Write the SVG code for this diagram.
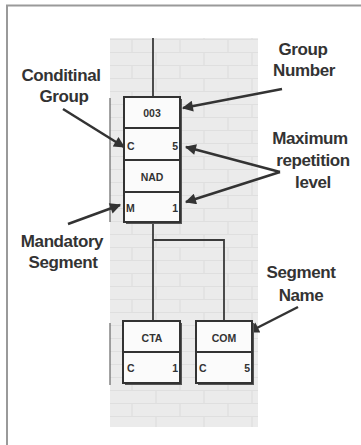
<svg xmlns="http://www.w3.org/2000/svg" width="361" height="445" viewBox="0 0 361 445">
<defs>
<style>
.lbl{font-family:"Liberation Sans",Arial,sans-serif;font-weight:bold;font-size:17px;letter-spacing:-0.4px;fill:#333;text-anchor:middle}
.bt{font-family:"Liberation Sans",Arial,sans-serif;font-weight:bold;font-size:10.5px;fill:#333}
.mid{text-anchor:middle}
.end{text-anchor:end}
.box{fill:#fbfbfb;stroke:#333;stroke-width:2}
.shadow{fill:#555}
.conn{stroke:#3a3a3a;stroke-width:1.8;fill:none}
.arrow{stroke:#333;stroke-width:2.5;fill:none;marker-end:url(#ah)}
.brk{stroke:#666;stroke-width:1.2}
</style>
<marker id="ah" viewBox="0 0 10 10" refX="9" refY="5" markerWidth="5" markerHeight="4.4" markerUnits="strokeWidth" orient="auto">
<path d="M0,0 L10,5 L0,10 z" fill="#333"/>
</marker>
<pattern id="brick" width="48" height="26" patternUnits="userSpaceOnUse">
<rect width="48" height="26" fill="#ebebeb"/>
<path d="M0,0.5 H48 M0,13.5 H48 M12,0 V13 M36,13 V26" stroke="#dfdfdf" stroke-width="1.2"/>
</pattern>
</defs>
<rect width="361" height="445" fill="#ffffff"/>
<path d="M7,445 V5.5 H361" fill="none" stroke="#9a9a9a" stroke-width="2"/>
<rect x="110" y="38" width="148" height="389" fill="url(#brick)"/>

<g id="connectors">
<path class="conn" d="M153,38 V97"/>
<path class="conn" d="M153,222 V321"/>
<path class="conn" d="M153,240 H224 V321"/>
<line class="brk" x1="110" y1="98" x2="110" y2="222"/>
<line class="brk" x1="110" y1="323" x2="110" y2="385"/>
<path class="arrow" d="M282,89 L183,108"/>
<path class="arrow" d="M63,109 L124,147"/>
<path class="arrow" d="M280,172 L186,147"/>
<path class="arrow" d="M280,172 L186,202"/>
<path class="arrow" d="M68,224 L120,205"/>
<path class="arrow" d="M298,307 L249,332"/>
</g>

<g id="group003">
<rect class="shadow" x="126" y="99" width="56" height="63"/>
<rect class="box" x="124" y="97" width="56" height="63"/>
<line x1="124" y1="128" x2="180" y2="128" stroke="#333" stroke-width="2"/>
<text class="bt mid" x="152" y="117">003</text>
<text class="bt" x="127" y="150">C</text>
<text class="bt end" x="178" y="150">5</text>
</g>

<g id="NAD">
<rect class="shadow" x="126" y="162" width="56" height="62"/>
<rect class="box" x="124" y="160" width="56" height="62"/>
<line x1="124" y1="192" x2="180" y2="192" stroke="#333" stroke-width="2"/>
<text class="bt mid" x="152" y="181">NAD</text>
<text class="bt" x="126" y="212">M</text>
<text class="bt end" x="178" y="212">1</text>
</g>

<g id="CTA">
<rect class="shadow" x="125" y="323" width="57" height="62"/>
<rect class="box" x="123" y="321" width="57" height="62"/>
<line x1="123" y1="352" x2="180" y2="352" stroke="#333" stroke-width="2"/>
<text class="bt mid" x="152" y="342">CTA</text>
<text class="bt" x="127" y="372">C</text>
<text class="bt end" x="178" y="372">1</text>
</g>

<g id="COM">
<rect class="shadow" x="198" y="323" width="56" height="62"/>
<rect class="box" x="196" y="321" width="56" height="62"/>
<line x1="196" y1="352" x2="252" y2="352" stroke="#333" stroke-width="2"/>
<text class="bt mid" x="224" y="342">COM</text>
<text class="bt" x="199" y="372">C</text>
<text class="bt end" x="250" y="372">5</text>
</g>

<g id="lbl-group-number">
<text class="lbl" x="303" y="55">Group</text>
<text class="lbl" x="304" y="76">Number</text>
</g>
<g id="lbl-conditional-group">
<text class="lbl" x="61" y="81">Conditinal</text>
<text class="lbl" x="64" y="102">Group</text>
</g>
<g id="lbl-max-rep">
<text class="lbl" x="310" y="144">Maximum</text>
<text class="lbl" x="313" y="166">repetition</text>
<text class="lbl" x="313" y="188">level</text>
</g>
<g id="lbl-mandatory">
<text class="lbl" x="62" y="247">Mandatory</text>
<text class="lbl" x="63" y="268">Segment</text>
</g>
<g id="lbl-segment-name">
<text class="lbl" x="301" y="278">Segment</text>
<text class="lbl" x="301" y="301">Name</text>
</g>
</svg>
